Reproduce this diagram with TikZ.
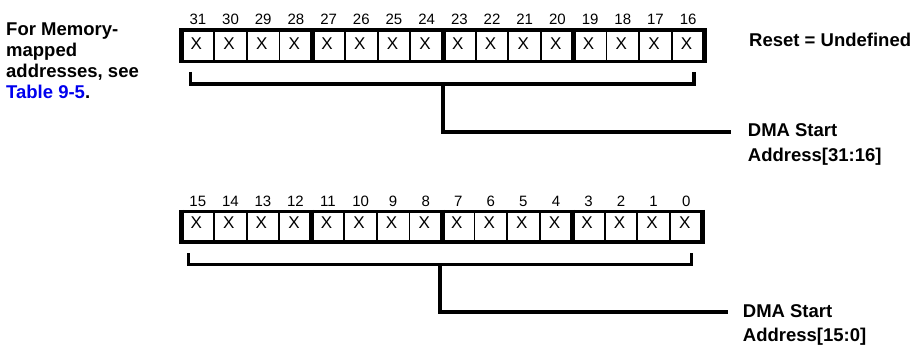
\documentclass[tikz,border=0pt]{standalone}
\usepackage{fontspec}
\setmainfont{Liberation Sans}
\definecolor{linkblue}{RGB}{0,0,238}
\begin{document}
\begin{tikzpicture}[x=1pt,y=-1pt,
  frame/.style={line width=3.2pt},
  thin/.style={line width=1.8pt},
  nib/.style={line width=5pt},
  brk/.style={line width=3.2pt,line join=miter},
  bitnum/.style={inner sep=0pt,anchor=base,font=\fontsize{15}{15}\selectfont},
  bitval/.style={inner sep=0pt,anchor=base,font=\fontsize{17}{17}\selectfont},
  lbl/.style={inner sep=0pt,anchor=base west,font=\fontsize{18.5}{21}\selectfont\bfseries}]
\useasboundingbox (0,0) rectangle (913,345);
% ---------- top register (bits 31..16)
\def\L{181.5}\def\R{704.5}\def\T{30}\def\B{61.5}
\pgfmathsetmacro\P{(\R-\L)/16}
\draw[frame] (\L,\T) -- (\R,\T) (\L,\B) -- (\R,\B);
\foreach \i in {1,2,3,5,6,7,9,10,11,13,14,15}
  \draw[thin] ({\L+\i*\P},\T) -- ({\L+\i*\P},\B);
\foreach \i in {0,4,8,12,16}
  \draw[nib] ({\L+\i*\P},\T-1.6) -- ({\L+\i*\P},\B+1.6);
\foreach \i in {0,...,15}{
  \pgfmathtruncatemacro\n{31-\i}
  \node[bitnum] (tn\n) at ({\L+(\i+0.5)*\P},25) {\n};
  \node[bitval] (tv\n) at ({\L+(\i+0.5)*\P-1.5},49.5) {X};
}
% ---------- bottom register (bits 15..0)
\def\L{181.5}\def\R{702.5}\def\T{211.5}\def\B{242}
\pgfmathsetmacro\P{(\R-\L)/16}
\draw[frame] (\L,\T) -- (\R,\T) (\L,\B) -- (\R,\B);
\foreach \i in {1,2,3,5,6,7,9,10,11,13,14,15}
  \draw[thin] ({\L+\i*\P},\T) -- ({\L+\i*\P},\B);
\foreach \i in {0,4,8,12,16}
  \draw[nib] ({\L+\i*\P},\T-1.6) -- ({\L+\i*\P},\B+1.6);
\foreach \i in {0,...,15}{
  \pgfmathtruncatemacro\n{15-\i}
  \node[bitnum] (bn\n) at ({\L+(\i+0.5)*\P},206) {\n};
  \node[bitval] (bv\n) at ({\L+(\i+0.5)*\P-1.5},228.5) {X};
}
% ---------- texts
\node[lbl] (lm1) at (6,35.7) {For Memory-};
\node[lbl] (lm2) at (6,56.6) {mapped};
\node[lbl] (lm3) at (6,77.5) {addresses, see};
\node[lbl] (lm4) at (6,98.3) {{\color{linkblue}Table 9-5}.};
\node[lbl] (reset) at (749,46.6) {Reset = Undefined};
\node[lbl] (d1a) at (747.7,136.7) {DMA Start};
\node[lbl] (d1b) at (747.7,161.7) {Address[31:16]};
\node[lbl] (d2a) at (742.7,317.5) {DMA Start};
\node[lbl] (d2b) at (742.7,341) {Address[15:0]};
% ---------- brackets
\coordinate (b1l) at (190.7,72);
\coordinate (b1r) at (694,72);
\coordinate (b1m) at (443,84);
\coordinate (e1) at (731,132);
\draw[brk] (b1l) -- (b1l |- b1m) -- (b1r |- b1m) -- (b1r);
\draw[brk] (b1m) |- (e1);
\coordinate (b2l) at (188.7,253);
\coordinate (b2r) at (691.7,253);
\coordinate (b2m) at (440,264.7);
\coordinate (e2) at (728.3,312);
\draw[brk] (b2l) -- (b2l |- b2m) -- (b2r |- b2m) -- (b2r);
\draw[brk] (b2m) |- (e2);
\end{tikzpicture}
\end{document}
